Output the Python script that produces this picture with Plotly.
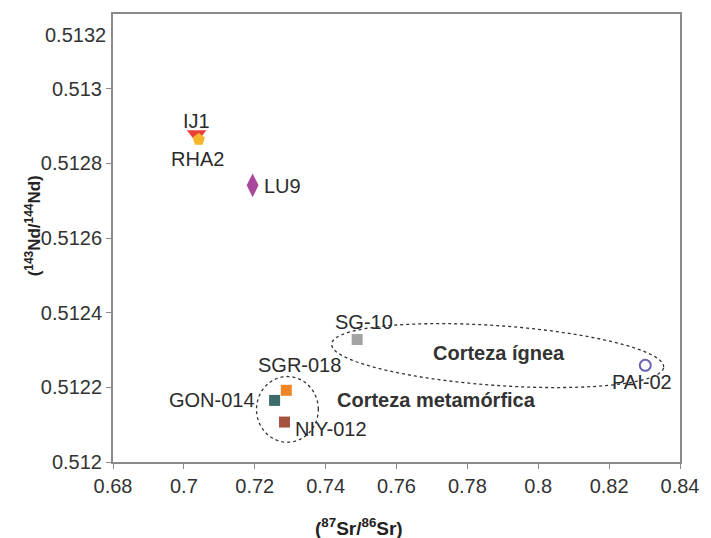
import numpy as np
import plotly.graph_objects as go

# Sample isotope ratios
samples = ["IJ1", "RHA2", "LU9", "SG-10", "SGR-018", "GON-014", "NIY-012", "PAI-02"]
sr_ratio = [0.7036, 0.7042, 0.7194, 0.7489, 0.7289, 0.7256, 0.7284, 0.8302]
nd_ratio = [0.512877, 0.512864, 0.512741, 0.512328, 0.512192, 0.512165, 0.512107, 0.512259]
symbols = ["triangle-down", "pentagon", "diamond-tall", "square", "square", "square", "square", "circle-open"]
colors = ["#e8413c", "#f7b52c", "#a9479c", "#a3a3a3", "#f08526", "#3d6b69", "#a5533f", "#6d63b5"]
sizes = [17, 13, 17, 11, 11, 11, 11, 11]

# Label placement around each marker: (anchor, x offset, y offset) in px
label_offsets = [("center", 0, 14), ("center", -1, -20), ("left", 9, -1), ("center", 7, 18),
                 ("center", 13, 25), ("right", -18, 0), ("left", 8, -7), ("center", -3, -17)]

x_ticks = [0.68, 0.70, 0.72, 0.74, 0.76, 0.78, 0.80, 0.82, 0.84]
y_ticks = [0.512, 0.5122, 0.5124, 0.5126, 0.5128, 0.513]
y_top_label = 0.5132

# Crust fields: center (x, y), semi-axes in px, tilt in degrees
fields = [
    {"cx": 0.78854, "cy": 0.512285, "a": 167, "b": 30, "tilt": -4},
    {"cx": 0.72921, "cy": 0.512141, "a": 31, "b": 33, "tilt": 0},
]
field_names = ["Corteza ígnea", "Corteza metamórfica"]
field_label_x = [0.78882, 0.77139]
field_label_y = [0.512293, 0.512165]

x_range = [0.68, 0.84]
y_range = [0.512, 0.5132]
m_l, m_r, m_t, m_b = 113, 29, 12, 76
W, H = 711, 538
plot_w = W - m_l - m_r
plot_h = H - m_t - m_b

FONT = "Liberation Sans, Arial, sans-serif"


def ellipse_path(f, n=140):
    t = np.linspace(0, 2 * np.pi, n)
    th = np.deg2rad(f["tilt"])
    px = f["a"] * np.cos(t) * np.cos(th) - f["b"] * np.sin(t) * np.sin(th)
    py = f["a"] * np.cos(t) * np.sin(th) + f["b"] * np.sin(t) * np.cos(th)
    xs = f["cx"] + px * (x_range[1] - x_range[0]) / plot_w
    ys = f["cy"] + py * (y_range[1] - y_range[0]) / plot_h
    return "M " + " L ".join(f"{a:.6f},{b:.8f}" for a, b in zip(xs, ys)) + " Z"


fig = go.Figure()
for i, s in enumerate(samples):
    open_marker = symbols[i].endswith("open")
    fig.add_trace(go.Scatter(
        x=[sr_ratio[i]], y=[nd_ratio[i]], mode="markers",
        marker=dict(symbol=symbols[i], size=sizes[i], color=colors[i],
                    line=dict(width=2 if open_marker else 0, color=colors[i])),
        showlegend=False, cliponaxis=False, name=s,
    ))
    anchor, dx, dy = label_offsets[i]
    fig.add_annotation(x=sr_ratio[i], y=nd_ratio[i], text=s, showarrow=False,
                       xanchor=anchor, yanchor="middle", xshift=dx, yshift=dy,
                       font=dict(family=FONT, size=20, color="#2b2b2b"))

for f in fields:
    fig.add_shape(type="path", path=ellipse_path(f), xref="x", yref="y",
                  line=dict(color="#333333", width=1.3, dash="dot"), layer="above")

for name, lx, ly in zip(field_names, field_label_x, field_label_y):
    fig.add_annotation(x=lx, y=ly, text=f"<b>{name}</b>", showarrow=False,
                       font=dict(family=FONT, size=20, color="#333333"))

# Top tick label of the y axis sits slightly below the frame
fig.add_annotation(x=0, xref="paper", xanchor="right", xshift=-5, y=y_top_label, yref="y",
                   yshift=-21, text=f"{y_top_label:g}", showarrow=False,
                   font=dict(family=FONT, size=20, color="#333333"))

fig.add_annotation(x=0.434, xref="paper", y=-0.144, yref="paper", yanchor="middle",
                   text="<b>(<sup>87</sup>Sr/<sup>86</sup>Sr)</b>", showarrow=False,
                   font=dict(family=FONT, size=19, color="#222222"))
fig.add_annotation(x=-0.165, xref="paper", y=0.527, yref="paper", textangle=-90,
                   text="<b>(<sup>143</sup>Nd/<sup>144</sup>Nd)</b>", showarrow=False,
                   font=dict(family=FONT, size=17, color="#222222"))

axis_font = dict(family=FONT, size=20, color="#333333")
fig.update_xaxes(range=x_range, tickvals=x_ticks, ticktext=[f"{v:g}" for v in x_ticks],
                 showgrid=False, zeroline=False, showline=True, linecolor="#8a8a8a", linewidth=2,
                 mirror=True, ticks="outside", ticklen=5, tickcolor="#8a8a8a", tickfont=axis_font)
fig.update_yaxes(range=y_range, tickvals=y_ticks, ticktext=[f"{v:g}" for v in y_ticks],
                 showgrid=False, zeroline=False, showline=True, linecolor="#8a8a8a", linewidth=2,
                 mirror=True, ticks="outside", ticklen=5, tickcolor="#8a8a8a", tickfont=axis_font)

fig.update_layout(width=W, height=H, margin=dict(l=m_l, r=m_r, t=m_t, b=m_b),
                  plot_bgcolor="white", paper_bgcolor="white")
fig.write_html("out.html")
